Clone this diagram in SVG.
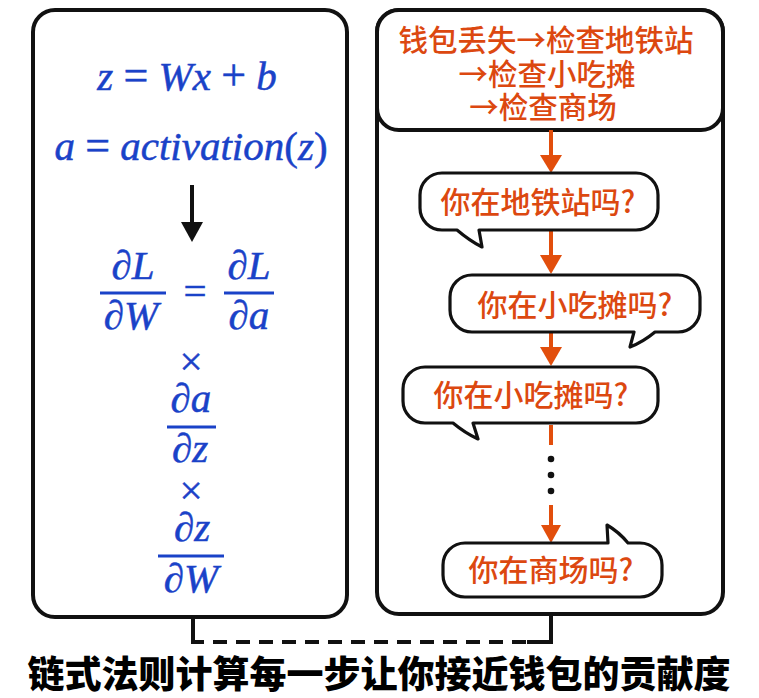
<svg xmlns="http://www.w3.org/2000/svg" width="759" height="698" viewBox="0 0 759 698">
<style>
.box{fill:#fff;stroke:#111;stroke-width:4}
.bub{fill:#fff;stroke:#111;stroke-width:3.2;stroke-linejoin:round}
.m{font-family:"Liberation Serif","Times New Roman",serif;font-style:italic;fill:#1a42c8;stroke:#1a42c8;stroke-width:0.5;font-size:41px;text-anchor:middle}
.u{font-style:normal}
.bar{stroke:#1a42c8;stroke-width:3}
.cn{font-family:"Noto Sans CJK SC","Noto Sans",sans-serif;fill:#dc4810;font-size:30px;text-anchor:middle;font-weight:500}
.hd{font-size:29.5px}
.oa{stroke:#e24e0c;stroke-width:4;fill:none}
.oh{fill:#e24e0c}
.title{font-family:"Noto Sans CJK SC","Noto Sans",sans-serif;font-weight:900;font-size:37px;fill:#000;text-anchor:middle;stroke:#fff;stroke-width:1;paint-order:stroke}
</style>
<rect width="759" height="698" fill="#fff"/>

<g id="left-box">
<rect class="box" x="33" y="10" width="314" height="607" rx="22"/>
<text class="m" x="187" y="90">z <tspan class="u" font-size="44">=</tspan> Wx <tspan class="u" font-size="44">+</tspan> b</text>
<text class="m" x="191" y="160">a <tspan class="u" font-size="44">=</tspan> activation<tspan class="u">(</tspan>z<tspan class="u">)</tspan></text>
<line x1="192" y1="185" x2="192" y2="224" stroke="#111" stroke-width="4"/>
<polygon points="181,222 203,222 192,242" fill="#111"/>
<text class="m" x="133" y="279">∂L</text>
<line class="bar" x1="100" y1="293" x2="166" y2="293"/>
<text class="m" x="131" y="329">∂W</text>
<text class="m u" x="195" y="305" font-size="46">=</text>
<text class="m" x="249" y="279">∂L</text>
<line class="bar" x1="224" y1="293" x2="274" y2="293"/>
<text class="m" x="249" y="329">∂a</text>
<text class="m u" x="191" y="375" font-size="58">×</text>
<text class="m" x="191" y="412">∂a</text>
<line class="bar" x1="167" y1="427" x2="216" y2="427"/>
<text class="m" x="190" y="462">∂z</text>
<text class="m u" x="191" y="504" font-size="58">×</text>
<text class="m" x="192" y="541">∂z</text>
<line class="bar" x1="158" y1="556" x2="224" y2="556"/>
<text class="m" x="191" y="592">∂W</text>
</g>

<g id="right-box">
<rect class="box" x="377" y="10" width="346" height="604" rx="22"/>
</g>

<g id="header">
<rect class="box" x="377" y="10" width="346" height="120" rx="22"/>
<text class="cn hd" x="546" y="51">钱包丢失→检查地铁站</text>
<text class="cn hd" x="547" y="85">→检查小吃摊</text>
<text class="cn hd" x="543" y="118">→检查商场</text>
</g>

<g id="connectors">
<line class="oa" x1="551" y1="130" x2="551" y2="157"/>
<polygon class="oh" points="540,155 562,155 551,173"/>
<line class="oa" x1="551" y1="230" x2="551" y2="257"/>
<polygon class="oh" points="540,255 562,255 551,274"/>
<line class="oa" x1="551" y1="332" x2="551" y2="349"/>
<polygon class="oh" points="540,347 562,347 551,366"/>
<line class="oa" x1="551" y1="425" x2="551" y2="445"/>
<circle cx="551" cy="459" r="3.3" fill="#111"/>
<circle cx="551" cy="475" r="3.3" fill="#111"/>
<circle cx="551" cy="491" r="3.3" fill="#111"/>
<line class="oa" x1="551" y1="505" x2="551" y2="527"/>
<polygon class="oh" points="541,525 561,525 551,543"/>
<path d="M193,617 V642 H204" fill="none" stroke="#111" stroke-width="4"/>
<path d="M213,642 H527" fill="none" stroke="#111" stroke-width="4" stroke-dasharray="14 9"/>
<path d="M527,642 H551 V614" fill="none" stroke="#111" stroke-width="4"/>
</g>

<g id="bubble1">
<path class="bub" d="M442,173 H636 A22 22 0 0 1 658,195 V208 A22 22 0 0 1 636,230 H479 L482,247 Q470,241 457,230 H442 A22 22 0 0 1 420,208 V195 A22 22 0 0 1 442,173 Z"/>
<text class="cn" x="538" y="213">你在地铁站吗?</text>
</g>
<g id="bubble2">
<path class="bub" d="M472,275 H678 A22 22 0 0 1 700,297 V310 A22 22 0 0 1 678,332 H655 Q643,342 630,347 L634,332 H472 A22 22 0 0 1 450,310 V297 A22 22 0 0 1 472,275 Z"/>
<text class="cn" x="575" y="316">你在小吃摊吗?</text>
</g>
<g id="bubble3">
<path class="bub" d="M425,367 H636 A22 22 0 0 1 658,389 V401 A22 22 0 0 1 636,423 H473 L478,439 Q465,433 453,423 H425 A22 22 0 0 1 403,401 V389 A22 22 0 0 1 425,367 Z"/>
<text class="cn" x="531" y="406">你在小吃摊吗?</text>
</g>
<g id="bubble4">
<path class="bub" d="M465,543 H608 L607,525 Q619,532 628,543 H640 A22 22 0 0 1 662,565 V575 A22 22 0 0 1 640,597 H465 A22 22 0 0 1 443,575 V565 A22 22 0 0 1 465,543 Z"/>
<text class="cn" x="551" y="581">你在商场吗?</text>
</g>

<g id="title">
<text class="title" x="379" y="688">链式法则计算每一步让你接近钱包的贡献度</text>
</g>
</svg>
